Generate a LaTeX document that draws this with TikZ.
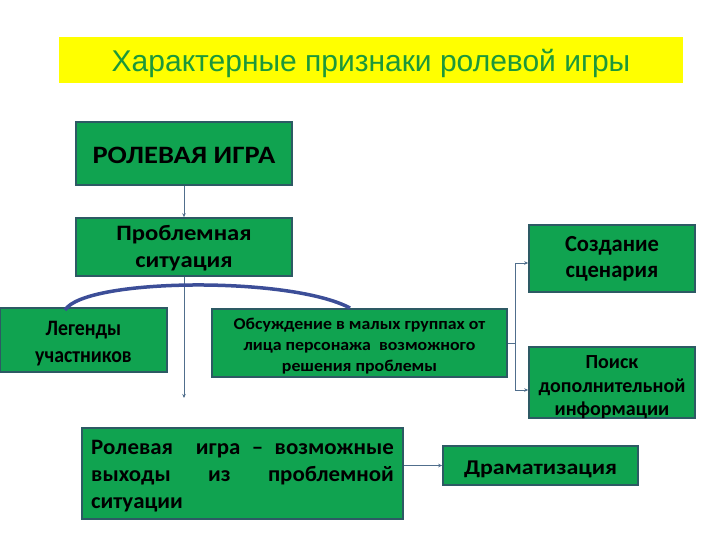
\documentclass[tikz,border=0pt]{standalone}
\usepackage{fontspec}
\usepackage{graphicx}
\setmainfont{Carlito}
\newfontfamily\arialf{Liberation Sans}
\usetikzlibrary{arrows.meta}
\definecolor{boxgreen}{RGB}{16,163,80}
\definecolor{boxedge}{RGB}{45,90,100}
\definecolor{titlegreen}{RGB}{28,152,58}
\definecolor{banner}{RGB}{255,255,0}
\definecolor{thinline}{RGB}{80,110,140}
\definecolor{arcblue}{RGB}{60,78,152}
% [align]{x-scale}{downward shift}{lines}
\newcommand{\stx}[4][c]{\raisebox{-#3}[\height][\depth]{\scalebox{#2}[1]{\begin{tabular}{@{}#1@{}}#4\end{tabular}}}}
\tikzset{
  gbox/.style={draw=boxedge, line width=1.6pt, fill=boxgreen, inner sep=0pt, align=center, font=\bfseries, text=black},
  conn/.style={draw=thinline, line width=0.9pt, -{Stealth[length=4pt,width=3.5pt]}},
  plainconn/.style={draw=thinline, line width=0.9pt},
}
\begin{document}
\begin{tikzpicture}[x=1pt,y=-1pt]
\useasboundingbox (0,0) rectangle (720,540);
% title banner
\node[fill=banner, minimum width=624pt, minimum height=46pt, inner sep=0pt] (title) at (371,60)
  {\raisebox{-3pt}[\height][\depth]{\arialf\fontsize{30}{32}\selectfont\color{titlegreen}Характерные признаки ролевой игры}};
% boxes
\node[gbox, minimum width=216pt, minimum height=63pt, font=\bfseries\fontsize{25}{28}\selectfont] (rpg) at (184,153.5)
  {\stx{1.14}{4pt}{РОЛЕВАЯ ИГРА}};
\node[gbox, minimum width=216pt, minimum height=58pt, font=\bfseries\fontsize{22}{27}\selectfont] (prob) at (184,247)
  {\stx{1.12}{2pt}{Проблемная\\ситуация}};
\node[gbox, minimum width=167pt, minimum height=64pt, font=\bfseries\fontsize{22}{27}\selectfont] (leg) at (83.5,340)
  {\stx{0.9}{4pt}{Легенды\\участников}};
\node[gbox, minimum width=295pt, minimum height=68pt, font=\bfseries\fontsize{16.5}{21}\selectfont] (disc) at (359.5,343)
  {\stx{1.08}{3pt}{Обсуждение в малых группах от\\лица персонажа \ возможного\\решения проблемы}};
\node[gbox, minimum width=166pt, minimum height=67pt, font=\bfseries\fontsize{23}{26}\selectfont] (scen) at (612,258.5)
  {\stx{0.98}{1pt}{Создание\\сценария}};
\node[gbox, minimum width=166pt, minimum height=69pt, font=\bfseries\fontsize{20}{23.5}\selectfont] (search) at (612,382.5)
  {\stx{1.0}{5pt}{Поиск\\дополнительной\\информации}};
\node[gbox, minimum width=321pt, minimum height=91pt, font=\bfseries\fontsize{22}{27}\selectfont] (exits) at (242.5,473.5)
  {\stx[l]{1.04}{3pt}{\makebox[291pt][s]{Ролевая \ игра – возможные}\\\makebox[291pt][s]{выходы из проблемной}\\ситуации}};
\node[gbox, minimum width=195pt, minimum height=39pt, font=\bfseries\fontsize{21}{24}\selectfont] (drama) at (540.5,465.5)
  {\stx{1.14}{4pt}{Драматизация}};
% connectors
\coordinate (vend) at (184,398);
\draw[conn] (rpg.south) -- (prob.north);
\draw[conn] (prob.south) -- (vend);
\coordinate (arcL) at (65,310);
\coordinate (arcR) at (350,308);
\draw[draw=arcblue, line width=3.5pt] (arcL) .. controls (85,278) and (290,276) .. (arcR);
\coordinate (brT) at (515,263);
\coordinate (brB) at (515,390);
\draw[plainconn] (disc.east) -- (disc.east -| brT);
\draw[plainconn] (brT) -- (brB);
\draw[conn] (brT) -- (brT -| scen.west);
\draw[conn] (brB) -- (brB -| search.west);
\draw[conn] (exits.east |- drama.west) -- (drama.west);
\end{tikzpicture}
\end{document}
